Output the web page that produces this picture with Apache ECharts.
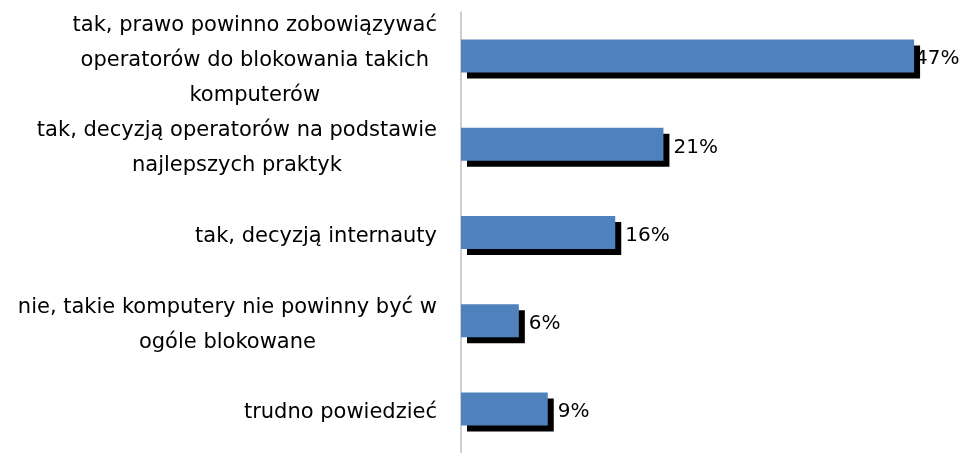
<!DOCTYPE html>
<html><head><meta charset="utf-8">
<script src="https://cdn.jsdelivr.net/npm/echarts@6/dist/echarts.min.js"></script>
<style>html,body{margin:0;padding:0;background:#fff}#c{width:964px;height:453px}</style>
</head><body><div id="c"></div>
<script>
const categories = [
  "tak, prawo powinno zobowiązywać\noperatorów do blokowania takich\nkomputerów",
  "tak, decyzją operatorów na podstawie\nnajlepszych praktyk",
  "tak, decyzją internauty",
  "nie, takie komputery nie powinny być w\nogóle blokowane",
  "trudno powiedzieć"
];
const values = [47, 21, 16, 6, 9];

const chart = echarts.init(document.getElementById('c'), null, {renderer: 'canvas'});
const maxV = Math.max(...values);
chart.setOption({
  animation: false,
  grid: {left: 461, top: 12, width: 482, height: 445},
  xAxis: {type: 'value', min: 0, max: 50, show: false},
  yAxis: {
    type: 'category', data: categories, inverse: true,
    axisLine: {show: true, lineStyle: {color: '#bfbfbf', width: 1.5}},
    axisTick: {show: false},
    axisLabel: {
      interval: 0, hideOverlap: false,
      margin: 24, align: 'right', color: '#000',
      fontFamily: 'DejaVu Sans', fontSize: 21, lineHeight: 35,
      padding: [8, 0, 0, 0],
      formatter: v => v.split('\n').map(s => '{c|' + s + '}').join('\n'),
      rich: {c: {align: 'center', fontFamily: 'DejaVu Sans', fontSize: 21, lineHeight: 35, color: '#000'}}
    }
  },
  series: [{
    type: 'bar', barWidth: 33,
    data: values.map(v => v === maxV ? {value: v, label: {distance: 1}} : v),
    itemStyle: {
      color: '#4F81BD', borderWidth: 0,
      shadowColor: '#000', shadowBlur: 0, shadowOffsetX: 6, shadowOffsetY: 6
    },
    label: {
      show: true, position: 'right', distance: 10, offset: [0, 3],
      formatter: p => p.value + '%', color: '#000',
      fontFamily: 'DejaVu Sans', fontSize: 20
    }
  }]
});
</script></body></html>
